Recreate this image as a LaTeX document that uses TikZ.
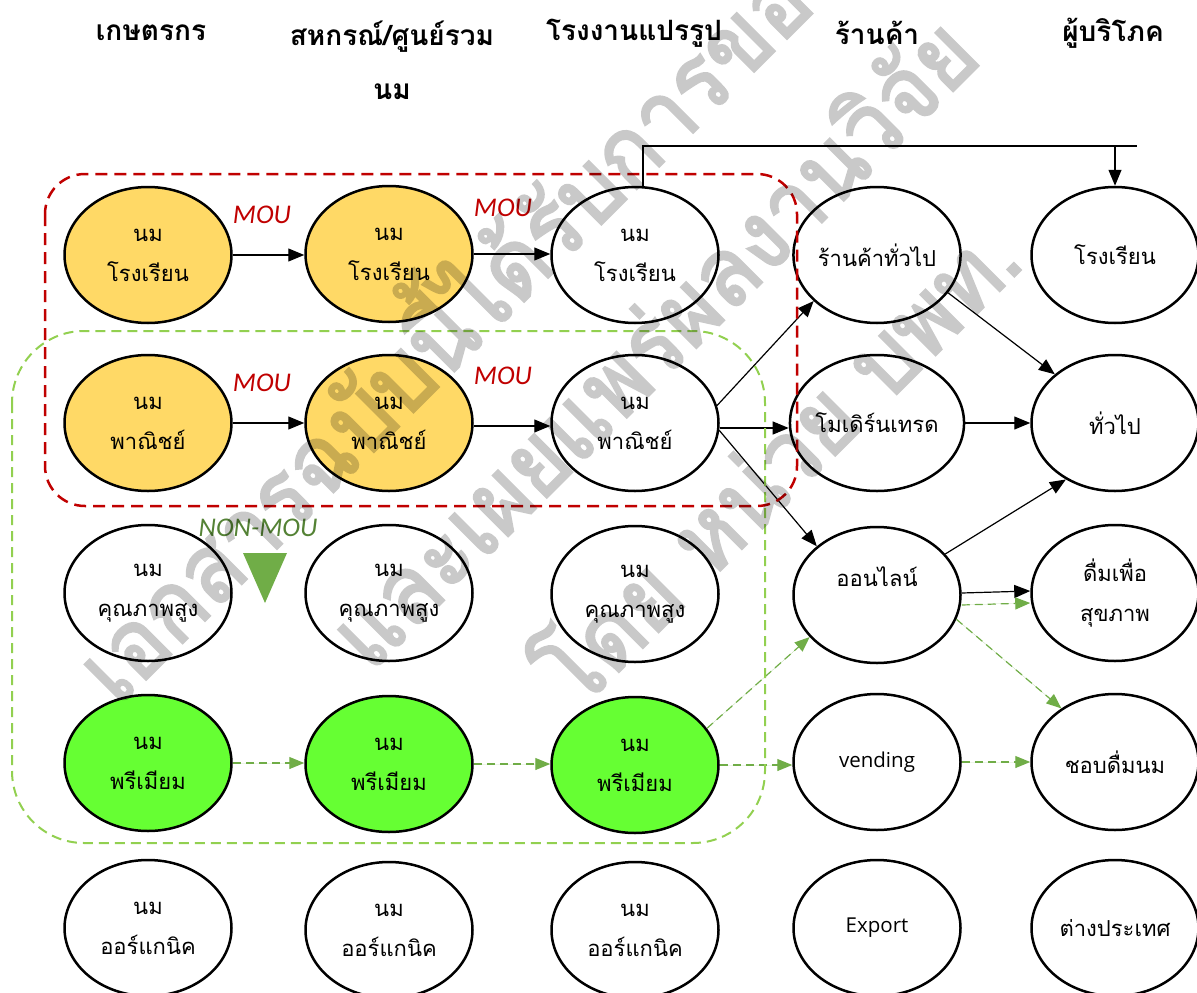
\documentclass[tikz,border=0pt]{standalone}
\usepackage{fontspec}
\usetikzlibrary{shapes.geometric,arrows.meta}
\newfontfamily\thai[Script=Thai]{Loma}
\newfontfamily\wthai[Script=Thai, FakeBold=2.5, FakeStretch=0.92]{Loma}
\newfontfamily\latin{Carlito}
\newfontfamily\osans{Open Sans}
\definecolor{milky}{HTML}{FFD966}
\definecolor{prem}{HTML}{66FF33}
\definecolor{mouRed}{HTML}{C00000}
\definecolor{boxGreen}{HTML}{92D050}
\definecolor{flowGreen}{HTML}{70AD47}
\definecolor{nonmou}{HTML}{548235}
\tikzset{
  ell/.style={ellipse, draw, line width=2.5pt, fill=white, minimum width=167pt,
    minimum height=136pt, inner sep=0pt, align=center,
    font=\thai\fontsize{22}{40}\selectfont},
  yel/.style={ell, fill=milky},
  grn/.style={ell, fill=prem},
  latlbl/.style={font=\osans\fontsize{20.5}{20.5}\selectfont},
  lbl/.style={font=\thai\fontsize{22}{40}\selectfont, inner sep=0pt},
  hdr/.style={font=\thai\bfseries\fontsize{28}{54}\selectfont, align=center, inner sep=0pt},
  mou/.style={font=\latin\itshape\fontsize{27}{27}\selectfont, text=mouRed, inner sep=0pt},
  arr/.style={-{Triangle[length=16pt,width=13pt]}, line width=1.2pt},
  garr/.style={-{Triangle[length=15pt,width=12pt]}, line width=1.2pt, draw=flowGreen,
    fill=flowGreen, dash pattern=on 8pt off 5pt},
  redbox/.style={draw=mouRed, line width=2.5pt, dash pattern=on 12pt off 7pt, rounded corners=40pt},
  grnbox/.style={draw=boxGreen, line width=2pt, dash pattern=on 10pt off 6pt, rounded corners=72pt},
  wmark/.style={font=\wthai\fontsize{96}{96}\selectfont, text=black, rotate=45, inner sep=0pt}
}
\begin{document}
\begin{tikzpicture}[x=1pt, y=-1pt]
\useasboundingbox (0,0) rectangle (1197,993);

% column headings
\node[hdr] (hFarm) at (151,33) {เกษตรกร};
\node[hdr] (hCoop) at (392,60) {สหกรณ์/ศูนย์รวม\\นม};
\node[hdr] (hProc) at (634,33) {โรงงานแปรรูป};
\node[hdr] (hShop) at (877,33) {ร้านค้า};
\node[hdr] (hCons) at (1113,33) {ผู้บริโภค};

% farmers
\node[yel] (f1) at (148,255) {นม\\โรงเรียน};
\node[yel] (f2) at (148,423) {นม\\พาณิชย์};
\node[ell] (f3) at (148,593) {นม\\คุณภาพสูง};
\node[grn] (f4) at (148,763) {นม\\พรีเมียม};
\node[ell] (f5) at (148,928) {นม\\ออร์แกนิค};

% cooperatives
\node[yel] (c1) at (389,254) {นม\\โรงเรียน};
\node[yel] (c2) at (389,423) {นม\\พาณิชย์};
\node[ell] (c3) at (389,593) {นม\\คุณภาพสูง};
\node[grn] (c4) at (389,764) {นม\\พรีเมียม};
\node[ell] (c5) at (389,930) {นม\\ออร์แกนิค};

% processing plants
\node[ell] (p1) at (635,255) {นม\\โรงเรียน};
\node[ell] (p2) at (635,423) {นม\\พาณิชย์};
\node[ell] (p3) at (635,594) {นม\\คุณภาพสูง};
\node[grn] (p4) at (635,765) {นม\\พรีเมียม};
\node[ell] (p5) at (635,930) {นม\\ออร์แกนิค};

% shops
\node[ell] (s1) at (877,255) {ร้านค้าทั่วไป};
\node[ell] (s2) at (877,423) {โมเดิร์นเทรด};
\node[ell] (s3) at (877,595) {};
\node[lbl] (s3t) at ([yshift=18pt]s3.center) {ออนไลน์};
\node[ell, latlbl] (s4) at (877,762) {vending};
\node[ell, latlbl] (s5) at (877,928) {Export};

% consumers
\node[ell] (k1) at (1115,255) {โรงเรียน};
\node[ell] (k2) at (1115,423) {ทั่วไป};
\node[ell] (k3) at (1115,593) {ดื่มเพื่อ\\สุขภาพ};
\node[ell] (k4) at (1115,762) {ชอบดื่มนม};
\node[ell] (k5) at (1115,928) {ต่างประเทศ};

% MOU chain
\draw[arr] (f1) -- (c1.west |- f1);
\draw[arr] (c1) -- (p1.west |- c1);
\draw[arr] (f2) -- (c2.west |- f2);
\draw[arr] ([yshift=-3pt]c2.east) -- ([yshift=-3pt]p2.west);
\node[mou] (m1) at (262,215) {MOU};
\node[mou] (m2) at (503,208) {MOU};
\node[mou] (m3) at (262,383) {MOU};
\node[mou] (m4) at (503,376) {MOU};

% school milk straight to schools
\coordinate (topR) at (1137,146);
\draw[line width=1.2pt] ([xshift=8pt]p1.north) |- (topR);
\draw[arr] (k1.north |- topR) -- (k1.north);

% commercial milk to shops and consumers
\draw[arr] (p2.12) -- (s1.216);
\draw[arr] ([yshift=-5pt]p2.east) -- ([yshift=-5pt]s2.west);
\draw[arr] (p2.-5) -- (s3.141);
\draw[arr] (s1.-28) -- (k2.141);
\draw[arr] (s2) -- (k2);
\draw[arr] (s3.31) -- (k2.229);
\draw[arr] ([yshift=2pt]s3.east) -- ([yshift=2pt]k3.west);

% premium milk flows
\draw[garr] (f4) -- (c4.west |- f4);
\draw[garr] (c4) -- (p4.west |- c4);
\draw[garr] (p4.27) -- (s3.212);
\draw[garr] (p4.east) -- (s4.west |- p4.east);
\draw[garr] ([yshift=-10pt]s3.east) -- ([yshift=-10pt]k3.west);
\draw[garr] (s3.-17) -- (k4.135);
\draw[garr] (s4) -- (k4);

% NON-MOU marker
\node[mou, text=nonmou] (nm) at (258,528) {NON-MOU};
\fill[flowGreen] (243,553) -- (287,553) -- (265,603) -- cycle;

% grouping frames
\draw[redbox] (45,174) rectangle (797,506);
\draw[grnbox] (12,331) rectangle (765,843);

% watermark, composited as one translucent layer
\begin{scope}[transparency group, opacity=0.21]
\node[wmark, anchor=west] (w1) at (82,672) {เอกสารฉบับนี้ได้รับการขอ};
\node[wmark] (w2) at (650,340) {และเผยแพร่ผลงานวิจัย};
\node[wmark] (w3) at (772,458) {โดย หน่วย บพท.};
\end{scope}
\end{tikzpicture}
\end{document}
